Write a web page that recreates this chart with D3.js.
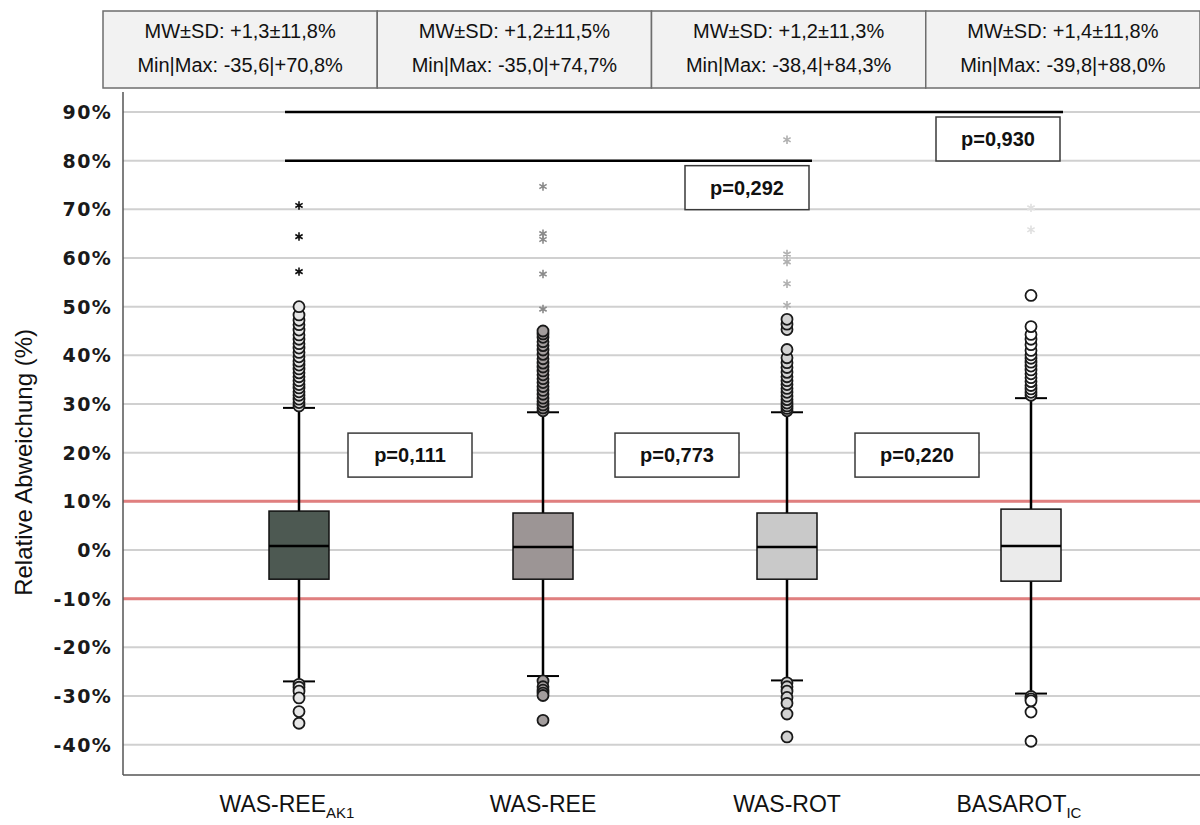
<!DOCTYPE html>
<html>
<head>
<meta charset="utf-8">
<script src="https://cdn.jsdelivr.net/npm/d3@7"></script>
<style>
  body { margin: 0; background: #fff; }
  svg { display: block; font-family: "Liberation Sans", Arial, sans-serif; }
</style>
</head>
<body>
<svg id="chart" width="1200" height="825"></svg>
<script>
"use strict";

// categories (label + subscript)
const categories = ["WAS-REE_AK1", "WAS-REE", "WAS-ROT", "BASAROT_IC"];
const labelMain = ["WAS-REE", "WAS-REE", "WAS-ROT", "BASAROT"];
const labelSub = ["AK1", "", "", "IC"];

// header stats
const headerMean = ["MW±SD: +1,3±11,8%", "MW±SD: +1,2±11,5%", "MW±SD: +1,2±11,3%", "MW±SD: +1,4±11,8%"];
const headerRange = ["Min|Max: -35,6|+70,8%", "Min|Max: -35,0|+74,7%", "Min|Max: -38,4|+84,3%", "Min|Max: -39,8|+88,0%"];

// box statistics (%)
const q1 = [-6.0, -6.0, -6.0, -6.4];
const median = [0.8, 0.6, 0.6, 0.8];
const q3 = [8.0, 7.6, 7.6, 8.4];
const whiskerLow = [-27.0, -25.9, -26.8, -29.5];
const whiskerHigh = [29.2, 28.3, 28.3, 31.2];

// outliers (circles) and extremes (stars)
const outliersHigh = [
  [29.6, 30.3, 31.0, 31.8, 32.5, 33.3, 34.0, 34.8, 35.6, 36.4, 37.2, 38.0, 38.8, 39.7, 40.6, 41.5, 42.4, 43.3, 44.2, 45.2, 46.3, 47.2, 48.3, 50.0],
  [28.6, 29.2, 29.8, 30.5, 31.2, 32.0, 32.8, 33.6, 34.4, 35.2, 36.0, 36.8, 37.6, 38.4, 39.3, 40.2, 41.1, 42.0, 42.8, 43.7, 44.4, 45.0],
  [28.6, 29.1, 29.6, 30.2, 30.9, 31.6, 32.4, 33.2, 34.0, 34.8, 35.6, 36.5, 37.5, 38.5, 39.5, 41.2, 45.3, 46.4, 47.4],
  [31.8, 32.4, 33.1, 33.8, 34.6, 35.4, 36.2, 37.0, 37.8, 38.6, 39.4, 40.1, 41.0, 42.2, 43.3, 44.3, 45.9, 52.3]
];
const outliersLow = [
  [-27.6, -28.2, -29.0, -30.4, -33.2, -35.6],
  [-26.9, -28.1, -28.8, -29.4, -29.9, -35.0],
  [-27.3, -28.1, -29.0, -30.3, -31.5, -33.7, -38.4],
  [-30.1, -30.6, -31.0, -33.3, -39.3]
];
const extremes = [
  [57.2, 64.4, 70.8],
  [49.5, 56.7, 63.8, 65.0, 74.7],
  [50.3, 54.7, 59.2, 60.8, 84.3],
  [65.8, 70.3, 88.0]
];

// y ticks
const yTicks = [90, 80, 70, 60, 50, 40, 30, 20, 10, 0, -10, -20, -30, -40];
const limitLines = [10, -10];

// p-values: brackets (from category, to category, level) and between-pair labels
const bracketFrom = [0, 0];
const bracketTo = [2, 3];
const bracketLevel = [80, 90];
const bracketLabel = ["p=0,292", "p=0,930"];
const pairLabel = ["p=0,111", "p=0,773", "p=0,220"];
const pairLevel = 19.5;

// styles
const boxFill = ["#4d5952", "#9c9595", "#c9c9c9", "#ebebeb"];
const outlierFill = ["#e6e6e6", "#a39d9d", "#d2d2d2", "#ffffff"];
const starColor = ["#111111", "#8a8a8a", "#b0b0b0", "#e0e0e0"];

const svg = d3.select("#chart");
const plotLeft = 123, plotRight = 1200, plotTop = 92, plotBottom = 775;

const y = d3.scaleLinear().domain([0, 90]).range([550, 112]);
const x = d3.scaleBand().domain(categories).range([177, 1153]);
const header = d3.scaleBand().domain(categories).range([103, 1200]);
const cx = i => x(categories[i]) + x.bandwidth() / 2;

// header boxes
const hdr = svg.append("g");
categories.forEach((c, i) => {
  hdr.append("rect")
    .attr("x", header(c)).attr("y", 11)
    .attr("width", header.bandwidth()).attr("height", 77)
    .attr("fill", "#f2f2f2").attr("stroke", "#6e6e6e").attr("stroke-width", 1.5);
  const hx = header(c) + header.bandwidth() / 2;
  hdr.append("text").attr("x", hx).attr("y", 38).attr("text-anchor", "middle")
    .attr("font-size", 20).attr("fill", "#111").text(headerMean[i]);
  hdr.append("text").attr("x", hx).attr("y", 72).attr("text-anchor", "middle")
    .attr("font-size", 20).attr("fill", "#111").text(headerRange[i]);
});

// gridlines
svg.append("g").selectAll("line").data(yTicks).join("line")
  .attr("x1", plotLeft).attr("x2", plotRight)
  .attr("y1", d => y(d)).attr("y2", d => y(d))
  .attr("stroke", "#d0d0d0").attr("stroke-width", 2);

// limit lines
svg.append("g").selectAll("line").data(limitLines).join("line")
  .attr("x1", plotLeft).attr("x2", plotRight)
  .attr("y1", d => y(d)).attr("y2", d => y(d))
  .attr("stroke", "#e07f7f").attr("stroke-width", 3);

// axes frame
svg.append("line").attr("x1", plotLeft).attr("x2", plotLeft)
  .attr("y1", plotTop).attr("y2", plotBottom)
  .attr("stroke", "#555").attr("stroke-width", 1.5);
svg.append("line").attr("x1", plotLeft).attr("x2", plotRight)
  .attr("y1", plotBottom).attr("y2", plotBottom)
  .attr("stroke", "#555").attr("stroke-width", 1.5);

// y tick labels
svg.append("g").selectAll("text").data(yTicks).join("text")
  .attr("x", 112).attr("y", d => y(d)).attr("dy", "0.36em")
  .attr("text-anchor", "end")
  .attr("font-family", "'DejaVu Sans', sans-serif")
  .attr("font-weight", "bold").attr("font-size", 19).attr("fill", "#1a1a1a")
  .attr("letter-spacing", 1.3)
  .text(d => d + "%");

// y title
svg.append("text")
  .attr("transform", `translate(32, ${y(18)}) rotate(-90)`)
  .attr("text-anchor", "middle").attr("font-size", 24).attr("fill", "#111")
  .text("Relative Abweichung (%)");

// box plots
const boxW = 60, capW = 32;
const boxes = svg.append("g");
categories.forEach((c, i) => {
  const g = boxes.append("g");
  const xc = cx(i);
  g.append("line").attr("x1", xc).attr("x2", xc)
    .attr("y1", y(whiskerHigh[i])).attr("y2", y(whiskerLow[i]))
    .attr("stroke", "#000").attr("stroke-width", 2.5);
  [whiskerHigh[i], whiskerLow[i]].forEach(v => {
    g.append("line").attr("x1", xc - capW / 2).attr("x2", xc + capW / 2)
      .attr("y1", y(v)).attr("y2", y(v))
      .attr("stroke", "#000").attr("stroke-width", 2);
  });
  g.append("rect").attr("x", xc - boxW / 2).attr("y", y(q3[i]))
    .attr("width", boxW).attr("height", y(q1[i]) - y(q3[i]))
    .attr("fill", boxFill[i]).attr("stroke", "#111").attr("stroke-width", 1.5);
  g.append("line").attr("x1", xc - boxW / 2).attr("x2", xc + boxW / 2)
    .attr("y1", y(median[i])).attr("y2", y(median[i]))
    .attr("stroke", "#000").attr("stroke-width", 2.5);

  g.selectAll("circle").data(outliersHigh[i].concat(outliersLow[i])).join("circle")
    .attr("cx", xc).attr("cy", d => y(d)).attr("r", 5.5)
    .attr("fill", outlierFill[i]).attr("stroke", "#1a1a1a").attr("stroke-width", 1.8);

  g.selectAll("path.star").data(extremes[i]).join("path")
    .attr("class", "star")
    .attr("transform", d => `translate(${xc},${y(d)})`)
    .attr("d", d3.symbol(d3.symbolAsterisk, 50))
    .attr("fill", "none").attr("stroke", starColor[i]).attr("stroke-width", 1.6);
});

// brackets
const pbox = (g, label, xc, ytop) => {
  g.append("rect").attr("x", xc - 62).attr("y", ytop)
    .attr("width", 124).attr("height", 44)
    .attr("fill", "#fff").attr("stroke", "#3a3a3a").attr("stroke-width", 1.5);
  g.append("text").attr("x", xc).attr("y", ytop + 22).attr("dy", "0.36em")
    .attr("text-anchor", "middle").attr("font-weight", "bold")
    .attr("font-size", 20).attr("fill", "#111").text(label);
};

const ann = svg.append("g");
bracketLabel.forEach((lab, k) => {
  const x1 = cx(bracketFrom[k]) - 14;
  const x2 = cx(bracketTo[k]) + 25 + k * 7;
  ann.append("line").attr("x1", x1).attr("x2", x2)
    .attr("y1", y(bracketLevel[k])).attr("y2", y(bracketLevel[k]))
    .attr("stroke", "#000").attr("stroke-width", 2.5);
  pbox(ann, lab, x2 - 65, y(bracketLevel[k]) + 5);
});
const pairShift = [-11, 12, 8];
pairLabel.forEach((lab, k) => {
  const xm = (cx(k) + cx(k + 1)) / 2 + pairShift[k];
  pbox(ann, lab, xm, y(pairLevel) - 22);
});

// x labels
categories.forEach((c, i) => {
  const t = svg.append("text").attr("x", cx(i) + (labelSub[i] ? -12 : 0)).attr("y", 812)
    .attr("text-anchor", "middle").attr("font-size", 23).attr("fill", "#111");
  t.append("tspan").text(labelMain[i]);
  if (labelSub[i]) {
    t.append("tspan").attr("dy", 6).attr("font-size", 15).text(labelSub[i]);
  }
});
</script>
</body>
</html>
